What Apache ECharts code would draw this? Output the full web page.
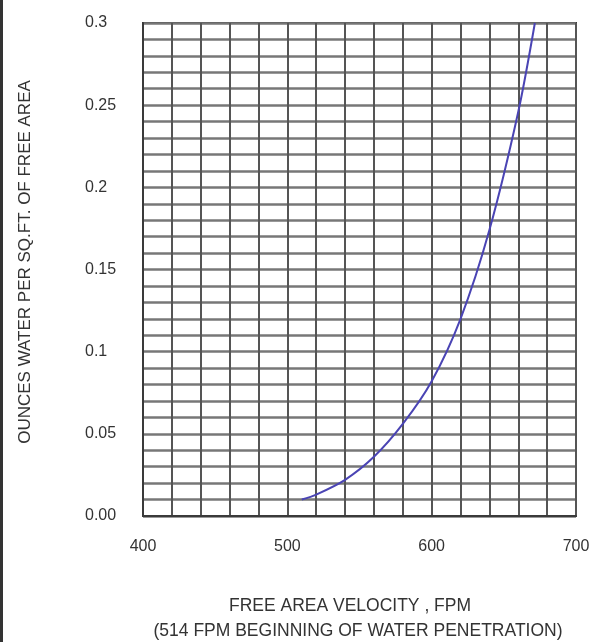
<!DOCTYPE html>
<html>
<head>
<meta charset="utf-8">
<script src="https://cdn.jsdelivr.net/npm/echarts@6/dist/echarts.min.js"></script>
<style>
html,body{margin:0;padding:0;background:#fff;}
#chart{width:610px;height:642px;}
</style>
</head>
<body>
<div id="chart"></div>
<script>
// Data
var velocity = [510, 520, 540, 560, 580, 600, 620, 640, 660, 671.5];
var water    = [0.010, 0.013, 0.022, 0.036, 0.056, 0.082, 0.120, 0.174, 0.246, 0.300];
var xTickLabels = ['400', '500', '600', '700'];
var yTickLabels = ['0.00', '0.05', '0.1', '0.15', '0.2', '0.25', '0.3'];
var yAxisTitle = 'OUNCES WATER PER SQ.FT. OF FREE AREA';
var xAxisTitle1 = 'FREE AREA VELOCITY , FPM';
var xAxisTitle2 = '(514 FPM BEGINNING OF WATER PENETRATION)';

var seriesData = velocity.map(function (v, i) { return [v, water[i]]; });
var font = 'Liberation Sans';

var chart = echarts.init(document.getElementById('chart'), null, {renderer: 'canvas'});
chart.setOption({
  animation: false,
  backgroundColor: '#fff',
  grid: {left: 143, right: 34, top: 23, bottom: 126, show: true, borderColor: '#3a3a3a', borderWidth: 2, backgroundColor: 'transparent'},
  xAxis: {
    type: 'value', min: 400, max: 700, interval: 20,
    axisLine: {show: true, lineStyle: {color: '#3a3a3a', width: 2}},
    axisTick: {show: false},
    axisLabel: {
      margin: 23, fontSize: 16, color: '#333', fontFamily: font,
      formatter: function (v) {
        var r = v - 400;
        if (Math.abs(r % 100) < 1e-6) return xTickLabels[Math.round(r / 100)];
        return '';
      }
    },
    splitLine: {show: true, lineStyle: {color: '#555', width: 2}}
  },
  yAxis: {
    type: 'value', min: 0, max: 0.3, interval: 0.01,
    axisLine: {show: true, lineStyle: {color: '#3a3a3a', width: 2}},
    axisTick: {show: false},
    axisLabel: {
      margin: 58, align: 'left', fontSize: 16, color: '#333', fontFamily: font,
      padding: [0, 0, 6, 0],
      formatter: function (v) {
        var k = v / 0.05;
        var idx = Math.round(k);
        if (Math.abs(k - idx) < 1e-4) return yTickLabels[idx];
        return '';
      }
    },
    splitLine: {show: true, lineStyle: {color: '#777', width: 2.5}}
  },
  graphic: [
    {type: 'rect', left: 0, top: 0, shape: {width: 3, height: 642}, style: {fill: '#333'}},
    {type: 'text', rotation: Math.PI / 2, x: 25, y: 262,
      style: {text: yAxisTitle, fill: '#333', font: '17px "' + font + '"', textAlign: 'center', textVerticalAlign: 'middle'}},
    {type: 'text', x: 350, y: 606,
      style: {text: xAxisTitle1, fill: '#333', font: '17.5px "' + font + '"', textAlign: 'center', textVerticalAlign: 'middle'}},
    {type: 'text', x: 358, y: 631,
      style: {text: xAxisTitle2, fill: '#333', font: '17.5px "' + font + '"', textAlign: 'center', textVerticalAlign: 'middle'}}
  ],
  series: [{
    type: 'line', data: seriesData, smooth: 0.3, showSymbol: false,
    lineStyle: {color: '#4a44b4', width: 2}
  }]
});
</script>
</body>
</html>
